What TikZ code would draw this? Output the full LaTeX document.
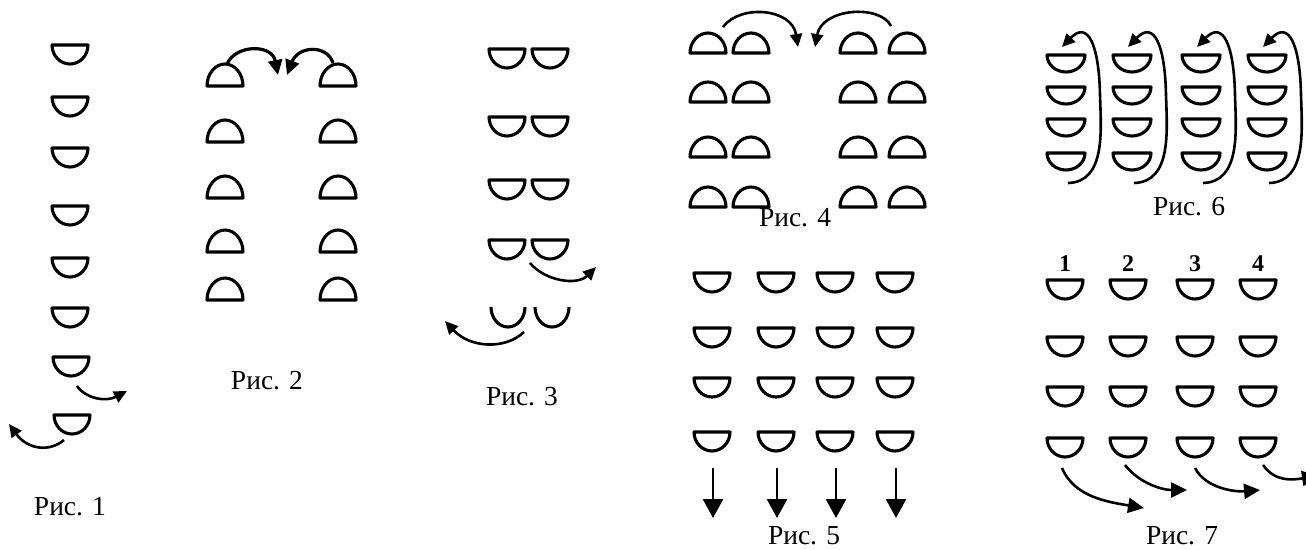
\documentclass[tikz,border=0pt]{standalone}
\usepackage{fontspec}
\setmainfont{Liberation Serif}
\usetikzlibrary{arrows.meta}
\begin{document}
\begin{tikzpicture}[x=1pt,y=-1pt,
  cupline/.style={line width=3.1pt,line join=round},
  bowl/.pic={\draw[cupline] (18,0) arc[start angle=0,end angle=180,x radius=18,y radius=19] -- cycle; \coordinate (-c) at (0,10);},
  sbowl/.pic={\draw[cupline] (19,0) arc[start angle=0,end angle=180,x radius=19,y radius=17] -- cycle; \coordinate (-c) at (0,9);},
  opencup/.pic={\draw[cupline] (17,0) arc[start angle=0,end angle=180,x radius=17,y radius=20]; \coordinate (-c) at (0,10);},
  dome/.pic={\draw[cupline] (18,0) arc[start angle=0,end angle=-180,x radius=18,y radius=20] -- cycle; \coordinate (-c) at (0,-10);},
  tdome/.pic={\draw[cupline] (18,0) arc[start angle=0,end angle=-180,x radius=18,y radius=22] -- cycle; \coordinate (-c) at (0,-11);},
  arr/.style={line width=2.6pt,-{Triangle[length=13pt,width=12pt]}},
  garr/.style={line width=2.6pt,-{Triangle[length=16pt,width=15pt]}},
  barr/.style={line width=3.2pt,-{Triangle[length=15pt,width=14pt]}},
  varr/.style={line width=2.6pt,-{Triangle[length=19pt,width=20pt]}},
  figcap/.style={font=\fontsize{27.5}{30}\selectfont,inner sep=0pt},
  num/.style={font=\fontsize{24}{26}\selectfont\bfseries,inner sep=0pt}]
\useasboundingbox (0,0) rectangle (1306,549);

% ---------- Fig 1 ----------
\foreach \y [count=\i] in {45,97,148,206,258,308} {\pic (a\i) at (70,\y) {bowl};}
\pic (a7) at (71,357) {bowl};
\pic (a8) at (72,415) {bowl};
\coordinate (a1s) at (77,386); \coordinate (a1e) at (127,391);
\coordinate (a2s) at (64,440); \coordinate (a2e) at (9,424);
\draw[arr] (a1s) .. controls (86,399) and (106,402) .. (a1e);
\draw[arr] (a2s) .. controls (50,452) and (28,450) .. (a2e);
\node[figcap] (c1) at (70,507) {Рис. 1};

% ---------- Fig 2 ----------
\foreach \y [count=\i] in {86,142,198,252,300} {
  \pic (bl\i) at (225,\y) {tdome};
  \pic (br\i) at (338,\y) {tdome};}
\coordinate (b1s) at (227,64); \coordinate (b1e) at (278,75);
\coordinate (b2s) at (333,63); \coordinate (b2e) at (287,75);
\draw[barr] (b1s) .. controls (236,44) and (272,44) .. (b1e);
\draw[barr] (b2s) .. controls (327,44) and (298,46) .. (b2e);
\node[figcap] (c2) at (267,381) {Рис. 2};

% ---------- Fig 3 ----------
\foreach \y [count=\i] in {49,117,180,240} {
  \pic (cl\i) at (507,\y) {bowl};
  \pic (cr\i) at (550,\y) {bowl};}
\pic (cl5) at (508,307) {opencup};
\pic (cr5) at (552,307) {opencup};
\coordinate (c1s) at (530,263); \coordinate (c1e) at (596,267);
\coordinate (c2s) at (524,332); \coordinate (c2e) at (445,321);
\draw[arr] (c1s) .. controls (545,281) and (577,286) .. (c1e);
\draw[arr] (c2s) .. controls (505,350) and (470,348) .. (c2e);
\node[figcap] (c3) at (522,397) {Рис. 3};

% ---------- Fig 4 ----------
\foreach \y [count=\i] in {53,102,157,207} {
  \pic (d1\i) at (708,\y) {dome};
  \pic (d2\i) at (751,\y) {dome};
  \pic (d3\i) at (858,\y) {dome};
  \pic (d4\i) at (907,\y) {dome};}
\coordinate (d1s) at (723,27); \coordinate (d1e) at (798,47);
\coordinate (d2s) at (891,26); \coordinate (d2e) at (815,47);
\draw[arr] (d1s) .. controls (740,4) and (792,8) .. (d1e);
\draw[arr] (d2s) .. controls (880,4) and (822,8) .. (d2e);
\node[figcap] (c4) at (795,218) {Рис. 4};

% ---------- Fig 5 ----------
\foreach \x [count=\j] in {712,776,835,895} {
  \foreach \y [count=\i] in {273,328,378,432} {\pic (e\j\i) at (\x,\y) {bowl};}
  \coordinate (es\j) at (\x+1,468);
  \coordinate (ee\j) at (\x+1,518);
  \draw[varr] (es\j) -- (ee\j);}
\node[figcap] (c5) at (804,536) {Рис. 5};

% ---------- Fig 6 ----------
\foreach \x [count=\j] in {1066,1132,1201,1267} {
  \foreach \y [count=\i] in {55,87,119,153} {\pic (f\j\i) at (\x,\y) {sbowl};}
  \coordinate (fs\j) at (\x+2,183);
  \coordinate (fe\j) at (\x-4,47);
  \draw[arr] (fs\j) .. controls (\x+40,182) and (\x+35,130) .. (\x+34,95)
      .. controls (\x+33,45) and (\x+22,20) .. (fe\j);}
\node[figcap] (c6) at (1189,207) {Рис. 6};

% ---------- Fig 7 ----------
\foreach \x [count=\j] in {1065,1128,1195,1258} {
  \node[num] (n\j) at (\x,264) {\j};
  \foreach \y [count=\i] in {280,337,387,438} {\pic (g\j\i) at (\x,\y) {bowl};}}
\coordinate (g1s) at (1062,468); \coordinate (g1e) at (1144,508);
\coordinate (g2s) at (1125,465); \coordinate (g2e) at (1187,490);
\coordinate (g3s) at (1195,468); \coordinate (g3e) at (1260,490);
\coordinate (g4s) at (1263,465); \coordinate (g4e) at (1318,476);
\draw[garr] (g1s) .. controls (1074,497) and (1108,502) .. (g1e);
\draw[garr] (g2s) .. controls (1140,484) and (1163,490) .. (g2e);
\draw[garr] (g3s) .. controls (1206,489) and (1236,492) .. (g3e);
\draw[garr] (g4s) .. controls (1275,482) and (1292,480) .. (g4e);
\node[figcap] (c7) at (1182,536) {Рис. 7};
\end{tikzpicture}
\end{document}
